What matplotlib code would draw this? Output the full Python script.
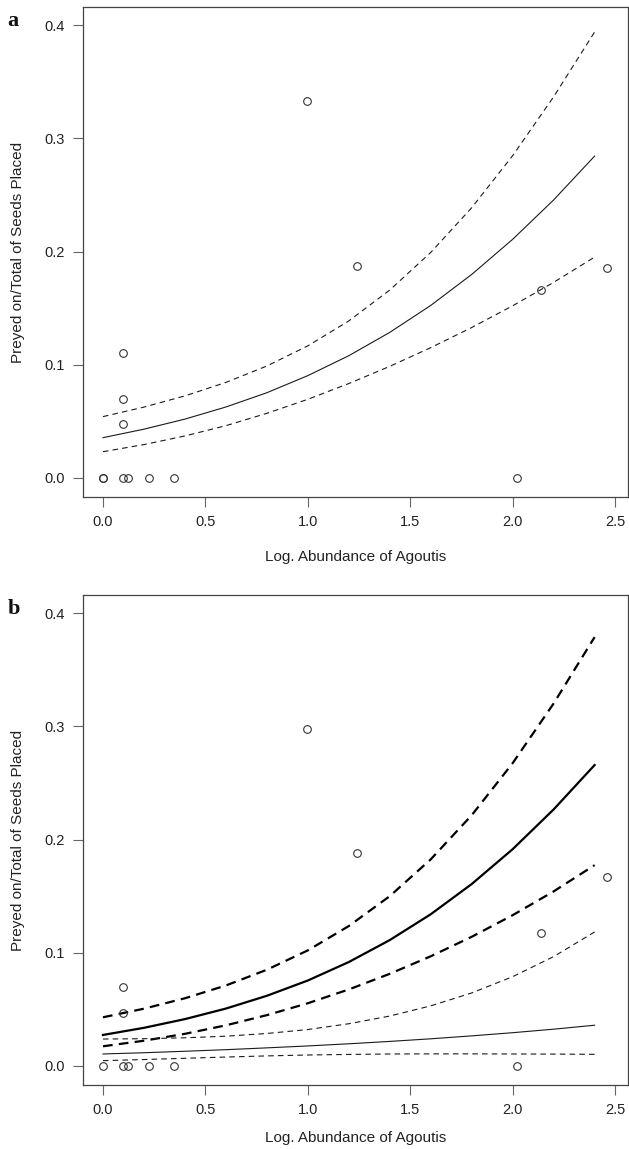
import matplotlib
matplotlib.use("Agg")
import matplotlib.pyplot as plt

plt.rcParams['font.family'] = ['Liberation Sans', 'DejaVu Sans']
plt.rcParams['lines.scale_dashes'] = False

# ---- observed points ----
pts_a_x = [0.0, 0.0, 0.096, 0.096, 0.096, 0.096, 0.12, 0.224, 0.346, 0.996, 1.238, 2.022, 2.139, 2.461]
pts_a_y = [0.0, 0.0, 0.0, 0.0474, 0.0695, 0.1107, 0.0, 0.0, 0.0, 0.3326, 0.187, 0.0, 0.166, 0.1854]

pts_b_x = [0.0, 0.096, 0.096, 0.096, 0.12, 0.224, 0.346, 0.996, 1.238, 2.022, 2.139, 2.461]
pts_b_y = [0.0, 0.0, 0.047, 0.0698, 0.0, 0.0, 0.0, 0.298, 0.188, 0.0, 0.1177, 0.167]

# ---- fitted curves (read at x grid) ----
curve_x = [0.0, 0.2, 0.4, 0.6, 0.8, 1.0, 1.2, 1.4, 1.6, 1.8, 2.0, 2.2, 2.4]

a_fit   = [0.0356, 0.0431, 0.0520, 0.0627, 0.0753, 0.0904, 0.1080, 0.1286, 0.1524, 0.1798, 0.2108, 0.2456, 0.2843]
a_upper = [0.0542, 0.0626, 0.0725, 0.0844, 0.0989, 0.1167, 0.1387, 0.1660, 0.1992, 0.2387, 0.2847, 0.3367, 0.3939]
a_lower = [0.0232, 0.0295, 0.0371, 0.0462, 0.0571, 0.0695, 0.0834, 0.0986, 0.1151, 0.1329, 0.1521, 0.1728, 0.1951]

b_fit_thick   = [0.0274, 0.0337, 0.0414, 0.0507, 0.0620, 0.0755, 0.0918, 0.1112, 0.1340, 0.1607, 0.1915, 0.2266, 0.2658]
b_upper_thick = [0.0430, 0.0506, 0.0598, 0.0711, 0.0850, 0.1021, 0.1236, 0.1500, 0.1825, 0.2215, 0.2675, 0.3202, 0.3788]
b_lower_thick = [0.0174, 0.0223, 0.0284, 0.0359, 0.0449, 0.0554, 0.0676, 0.0814, 0.0969, 0.1141, 0.1332, 0.1542, 0.1774]

b_fit_thin   = [0.0106, 0.0117, 0.0130, 0.0144, 0.0160, 0.0177, 0.0196, 0.0217, 0.0240, 0.0266, 0.0294, 0.0325, 0.0360]
b_upper_thin = [0.0238, 0.0241, 0.0249, 0.0263, 0.0287, 0.0322, 0.0373, 0.0441, 0.0531, 0.0645, 0.0789, 0.0966, 0.1184]
b_lower_thin = [0.0047, 0.0057, 0.0068, 0.0079, 0.0089, 0.0097, 0.0102, 0.0106, 0.0107, 0.0107, 0.0106, 0.0105, 0.0103]

xticks = [0.0, 0.5, 1.0, 1.5, 2.0, 2.5]
yticks = [0.0, 0.1, 0.2, 0.3, 0.4]
xlabel = "Log. Abundance of Agoutis"
ylabel = "Preyed on/Total of Seeds Placed"
panel_labels = ["a", "b"]

W, H = 629, 1149
fig = plt.figure(figsize=(W / 100, H / 100), dpi=100)

def px_axes(l, t, r, b):
    return fig.add_axes([l / W, 1 - b / H, (r - l) / W, (b - t) / H])

ax_a = px_axes(83, 7, 628, 497)
ax_b = px_axes(83, 595, 628, 1085)

line_col = '#1a1a1a'
frame_col = '#444444'
thin_dash = (0, (4.0, 3.0))
thick_dash = (0, (7.0, 4.5))

def style(ax, label, xpad):
    ax.set_xlim(-0.0975, 2.563)
    ax.set_ylim(-0.0168, 0.416)
    ax.set_xticks(xticks)
    ax.set_xticklabels([f"{v:.1f}" for v in xticks])
    ax.set_yticks(yticks)
    ax.set_yticklabels([f"{v:.1f}" for v in yticks])
    for s in ax.spines.values():
        s.set_color(frame_col)
        s.set_linewidth(0.9)
    ax.tick_params(axis='both', direction='out', length=7, width=0.8, color='#666666',
                   labelsize=10.5, labelcolor='#222222', pad=6)
    ax.set_xlabel(xlabel, fontsize=11, color='#222222', labelpad=xpad)
    ax.set_ylabel(ylabel, fontsize=11, color='#222222', labelpad=14)
    ax.text(-0.139, 0.962, label, transform=ax.transAxes, fontsize=16, fontweight='bold',
            family=['Liberation Serif', 'DejaVu Serif'], va='baseline', ha='left', color='#111111')

# panel a
ax_a.plot(curve_x, a_fit, color=line_col, lw=0.8)
ax_a.plot(curve_x, a_upper, color=line_col, lw=0.8, ls=thin_dash)
ax_a.plot(curve_x, a_lower, color=line_col, lw=0.8, ls=thin_dash)
ax_a.plot(pts_a_x, pts_a_y, 'o', mfc='none', mec='#333333', mew=0.8, ms=5.5)
style(ax_a, panel_labels[0], 15)

# panel b
ax_b.plot(curve_x, b_fit_thick, color='black', lw=1.6)
ax_b.plot(curve_x, b_upper_thick, color='black', lw=1.6, ls=thick_dash)
ax_b.plot(curve_x, b_lower_thick, color='black', lw=1.6, ls=thick_dash)
ax_b.plot(curve_x, b_fit_thin, color=line_col, lw=0.8)
ax_b.plot(curve_x, b_upper_thin, color=line_col, lw=0.8, ls=thin_dash)
ax_b.plot(curve_x, b_lower_thin, color=line_col, lw=0.8, ls=thin_dash)
ax_b.plot(pts_b_x, pts_b_y, 'o', mfc='none', mec='#333333', mew=0.8, ms=5.5)
style(ax_b, panel_labels[1], 10)

fig.savefig("out.png", dpi=100)
